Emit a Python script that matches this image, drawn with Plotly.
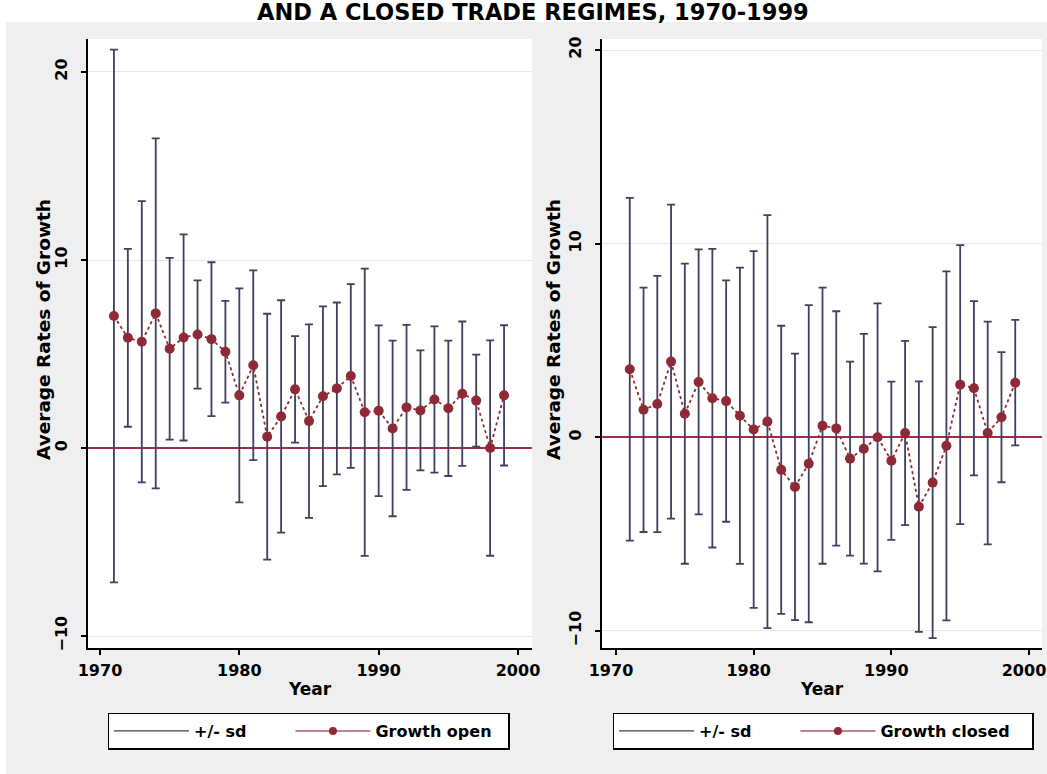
import plotly.graph_objects as go

# ---------------- data ----------------
years = list(range(1971, 2000))

open_mean = [7.02, 5.86, 5.65, 7.16, 5.28, 5.88, 6.04, 5.79, 5.12, 2.80,
             4.40, 0.60, 1.68, 3.12, 1.43, 2.75, 3.17, 3.83, 1.90, 1.98,
             1.04, 2.16, 2.00, 2.58, 2.11, 2.89, 2.52, 0.00, 2.80]
open_sd = [14.17, 4.73, 7.48, 9.31, 4.83, 5.48, 2.88, 4.09, 2.71, 5.69,
           5.05, 6.54, 6.18, 2.83, 5.15, 4.78, 4.57, 4.89, 7.64, 4.54,
           4.67, 4.39, 3.19, 3.89, 3.60, 3.84, 2.45, 5.73, 3.73]

closed_mean = [3.51, 1.42, 1.72, 3.91, 1.22, 2.86, 2.02, 1.87, 1.11, 0.40,
               0.81, -1.68, -2.56, -1.36, 0.60, 0.46, -1.10, -0.59, 0.00, -1.21,
               0.22, -3.58, -2.34, -0.44, 2.72, 2.53, 0.22, 1.04, 2.82]
closed_sd = [8.85, 6.31, 6.62, 8.11, 7.75, 6.84, 7.71, 6.23, 7.65, 9.21,
             10.66, 7.44, 6.88, 8.19, 7.13, 6.05, 5.01, 5.93, 6.92, 4.09,
             4.76, 6.47, 8.03, 9.01, 7.20, 4.50, 5.75, 3.36, 3.24]

x_ticks = [1970, 1980, 1990, 2000]
y_ticks = [-10, 0, 10, 20]

title_text = "AND A CLOSED TRADE REGIMES, 1970-1999"
y_title = "Average Rates of Growth"
x_title = "Year"
sd_label = "+/- sd"
open_label = "Growth open"
closed_label = "Growth closed"

# ---------------- styling ----------------
W, H = 1047, 774
FONT = "DejaVu Sans"
BG = "#efefef"
SD_COLOR = "#403f5e"
MAROON = "#8e2a36"
ZERO = "#a3294f"
GRID = "#e6e6e6"
NB = "\u00a0"


def fx(p):
    return p / W


def fy(p):
    return 1 - p / H


fig = go.Figure()

panels = [
    dict(xa="x", ya="y", mean=open_mean, sd=open_sd, label=open_label, leg="legend", pad2=2),
    dict(xa="x2", ya="y2", mean=closed_mean, sd=closed_sd, label=closed_label, leg="legend2", pad2=3),
]

for p in panels:
    # +/- sd caps
    fig.add_trace(go.Scatter(
        x=years, y=p["mean"], mode="markers",
        marker=dict(opacity=0, size=2),
        error_y=dict(type="data", array=p["sd"], symmetric=True,
                     color=SD_COLOR, thickness=1.8, width=4),
        showlegend=False, hoverinfo="skip",
        xaxis=p["xa"], yaxis=p["ya"]))
    # legend key for sd
    fig.add_trace(go.Scatter(
        x=[None], y=[None], mode="lines",
        line=dict(color=SD_COLOR, width=1.2),
        name=sd_label + NB * 7, legend=p["leg"],
        xaxis=p["xa"], yaxis=p["ya"]))
    # growth connected line
    fig.add_trace(go.Scatter(
        x=years, y=p["mean"], mode="lines+markers",
        line=dict(color=MAROON, width=1.8, dash="dot"),
        marker=dict(color=MAROON, size=10),
        showlegend=False,
        xaxis=p["xa"], yaxis=p["ya"]))
    # legend key for growth
    fig.add_trace(go.Scatter(
        x=[None], y=[None], mode="lines+markers",
        line=dict(color="#b0586a", width=1.5),
        marker=dict(color=MAROON, size=8),
        name=p["label"] + NB * p["pad2"], legend=p["leg"],
        xaxis=p["xa"], yaxis=p["ya"]))

tick_font = dict(family=FONT, size=16, color="black", weight="bold")
title_font = dict(family=FONT, size=17, color="black", weight="bold")
ytitle_font = dict(family=FONT, size=18.5, color="black", weight="bold")

common_x = dict(tickvals=x_ticks, ticks="outside", ticklen=5, tickwidth=1.5,
                tickcolor="black", showline=True, linecolor="black", linewidth=1.5,
                showgrid=False, zeroline=False, tickfont=tick_font,
                ticklabelstandoff=2, automargin=False,
                title=dict(text=x_title, font=title_font, standoff=4))
common_y = dict(tickvals=y_ticks, ticks="outside", ticklen=5, tickwidth=1.5,
                tickcolor="black", showline=True, linecolor="black", linewidth=1.5,
                showgrid=True, gridcolor=GRID, gridwidth=1,
                zeroline=True, zerolinecolor=ZERO, zerolinewidth=1.5,
                tickangle=-90, tickfont=tick_font, ticklabelstandoff=8,
                automargin=False)

y_dom = [fy(648), fy(39)]

legend_common = dict(orientation="h", xanchor="center", y=fy(731), yanchor="middle",
                     bgcolor="white", bordercolor="black", borderwidth=1.5,
                     itemwidth=75, traceorder="normal",
                     font=dict(family=FONT, size=16, color="black", weight="bold"))

fig.update_layout(
    width=W, height=H,
    margin=dict(l=0, r=0, t=0, b=0, autoexpand=False),
    paper_bgcolor=BG, plot_bgcolor="white",
    xaxis=dict(domain=[fx(88), fx(532)], range=[1969.139, 2001.005], anchor="y", **common_x),
    yaxis=dict(domain=y_dom, range=[-10.638, 21.755], anchor="x", **common_y),
    xaxis2=dict(domain=[fx(602), fx(1042)], range=[1968.983, 2000.944], anchor="y2",
                ticklabelshift=-5, **common_x),
    yaxis2=dict(domain=y_dom, range=[-10.880, 20.568], anchor="x2", **common_y),
    legend=dict(x=fx((105 + 512) / 2), **legend_common),
    legend2=dict(x=fx((612 + 1034) / 2), **legend_common),
    shapes=[
        dict(type="rect", xref="paper", yref="paper", x0=0, x1=1, y0=fy(22), y1=1,
             fillcolor="white", line=dict(width=0), layer="below"),
        dict(type="rect", xref="paper", yref="paper", x0=0, x1=fx(6), y0=0, y1=1,
             fillcolor="white", line=dict(width=0), layer="below"),
    ],
    annotations=[
        dict(text=title_text, xref="paper", yref="paper", x=fx(533), y=fy(27),
             xanchor="center", yanchor="bottom", showarrow=False,
             font=dict(family=FONT, size=22.5, color="black", weight="bold")),
        dict(text=y_title, xref="paper", yref="paper", x=fx(43), y=fy(330),
             xanchor="center", yanchor="middle", textangle=-90, showarrow=False,
             font=ytitle_font),
        dict(text=y_title, xref="paper", yref="paper", x=fx(553), y=fy(330),
             xanchor="center", yanchor="middle", textangle=-90, showarrow=False,
             font=ytitle_font),
    ],
)

fig.write_html("out.html",
               config={"displayModeBar": False},
               post_script="document.body.style.margin='0';document.body.style.overflow='hidden';")
